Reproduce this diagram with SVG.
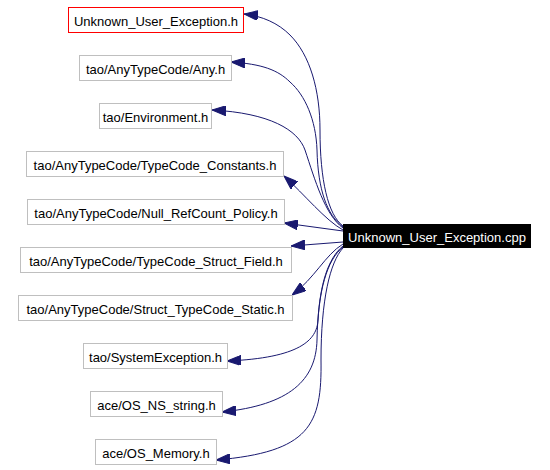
<svg xmlns="http://www.w3.org/2000/svg" width="550" height="470" viewBox="0 0 550 470">
<style>
.box{fill:#ffffff;stroke:#bfbfbf;stroke-width:1}
.red{fill:#ffffff;stroke:#ff0000;stroke-width:1}
.main{fill:#000000;stroke:#000000}
text{font-family:"Liberation Sans",Arial,sans-serif;font-size:13px;text-anchor:middle;fill:#000000}
.wt{fill:#ffffff}
.e{fill:none;stroke:#191970;stroke-width:1;marker-end:url(#arr)}
</style>
<defs>
<marker id="arr" markerUnits="userSpaceOnUse" viewBox="0 0 14 10" refX="14" refY="5" markerWidth="14" markerHeight="10" orient="auto">
<path d="M0,0 L14,5 L0,10 z" fill="#191970" stroke="#191970"/>
</marker>
</defs>
<rect width="550" height="470" fill="#ffffff"/>
<g id="edges">
<path class="e" d="M343,226 C328,215 320,180 320,130 C320,90 310,55 290,35 C278,23 262,16 244,14"/>
<path class="e" d="M343,227 C327,215 318,190 317,150 C316,120 305,95 290,82 C278,70 262,64 231,62"/>
<path class="e" d="M343,228 C325,215 315,180 305,150 C298,130 270,113 212,110"/>
<path class="e" d="M343,230 C325,220 305,195 284,176"/>
<path class="e" d="M343,231 L284,223"/>
<path class="e" d="M343,242 L291,246"/>
<path class="e" d="M343,244 C325,255 315,278 292,295"/>
<path class="e" d="M343,246 C328,258 320,285 318,320 C317,340 300,358 227,361"/>
<path class="e" d="M343,247 C327,260 318,290 317,340 C316,380 290,405 222,412"/>
<path class="e" d="M343,248 C330,262 321,300 321,360 C322,425 310,452 216,460"/>
</g>
<g id="main">
<rect class="main" x="343.5" y="224.5" width="187" height="23"/>
<text class="wt" x="437" y="242">Unknown_User_Exception.cpp</text>
</g>
<g id="n1">
<rect class="red" x="68.5" y="7.5" width="175" height="25"/>
<text x="156" y="26">Unknown_User_Exception.h</text>
</g>
<g id="n2">
<rect class="box" x="79.5" y="55.5" width="152" height="25"/>
<text x="155.5" y="74">tao/AnyTypeCode/Any.h</text>
</g>
<g id="n3">
<rect class="box" x="99.5" y="103.5" width="112" height="25"/>
<text x="155.5" y="122">tao/Environment.h</text>
</g>
<g id="n4">
<rect class="box" x="26.5" y="151.5" width="257" height="25"/>
<text x="155" y="170">tao/AnyTypeCode/TypeCode_Constants.h</text>
</g>
<g id="n5">
<rect class="box" x="27.5" y="199.5" width="257" height="25"/>
<text x="156" y="218">tao/AnyTypeCode/Null_RefCount_Policy.h</text>
</g>
<g id="n6">
<rect class="box" x="20.5" y="247.5" width="271" height="25"/>
<text x="156" y="266">tao/AnyTypeCode/TypeCode_Struct_Field.h</text>
</g>
<g id="n7">
<rect class="box" x="18.5" y="295.5" width="274" height="25"/>
<text x="155.5" y="314">tao/AnyTypeCode/Struct_TypeCode_Static.h</text>
</g>
<g id="n8">
<rect class="box" x="83.5" y="343.5" width="144" height="25"/>
<text x="155.5" y="362">tao/SystemException.h</text>
</g>
<g id="n9">
<rect class="box" x="90.5" y="391.5" width="132" height="25"/>
<text x="156.5" y="410">ace/OS_NS_string.h</text>
</g>
<g id="n10">
<rect class="box" x="95.5" y="439.5" width="121" height="25"/>
<text x="156" y="458">ace/OS_Memory.h</text>
</g>
</svg>
